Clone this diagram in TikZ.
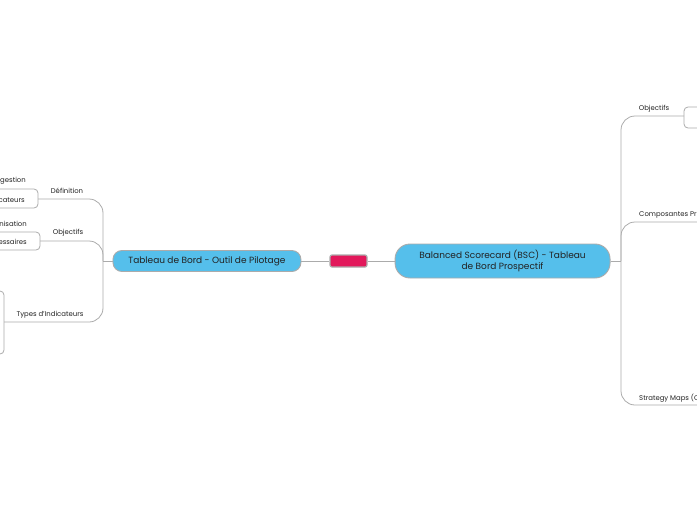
\documentclass[tikz,border=0pt]{standalone}
\usepackage{fontspec}
\setmainfont{Poppins}
\usetikzlibrary{positioning}
\definecolor{skyblue}{HTML}{55BFEB}
\definecolor{pinkred}{HTML}{E2185B}
\definecolor{linegray}{HTML}{ABABAB}
\definecolor{inkgray}{HTML}{222222}
\tikzstyle{topic} = [rectangle, draw=linegray, fill=skyblue, line width=0.9pt, text=inkgray, text centered, inner sep=0pt, font=\fontsize{9}{11}\selectfont]
\tikzstyle{sublabel} = [text=inkgray, inner sep=0pt, font=\fontsize{6.9}{8}\selectfont]
\tikzstyle{link} = [draw=linegray, line width=0.8pt]
\tikzstyle{branch} = [link, rounded corners=14pt]
\tikzstyle{bracket} = [link, rounded corners=4pt]

\begin{document}
\begin{tikzpicture}[x=1pt, y=-1pt, node distance=27pt]
        \useasboundingbox (0,0) rectangle (697,520);
        \clip (0,0) rectangle (697,520);
        % Place nodes
        \node [rectangle, draw=linegray, line width=1.2pt, fill=pinkred, rounded corners=2pt, minimum width=37pt, minimum height=12pt] (mid) at (348.5,261) {};
        \node [topic, right=27pt of mid, minimum width=215pt, minimum height=34pt, rounded corners=15pt, align=center] (bsc) {Balanced Scorecard (BSC) - Tableau\\de Bord Prospectif};
        \node [topic, left=28pt of mid, minimum width=188pt, minimum height=21pt, rounded corners=9pt] (tbo) {Tableau de Bord - Outil de Pilotage};
        \coordinate (lt) at (103,261);
        \coordinate (rt) at (621,261);
        % Left side
        \node [sublabel] (ldef) at (67,191) {Définition};
        \node [sublabel] (lobj) at (68,233) {Objectifs};
        \node [sublabel] (ltyp) at (50,315) {Types d'Indicateurs};
        \node [sublabel, anchor=east] (ldefa) at (26,181) {gestion};
        \node [sublabel, anchor=east] (ldefb) at (25,200) {icateurs};
        \node [sublabel, anchor=east] (lobja) at (27,224) {nisation};
        \node [sublabel, anchor=east] (lobjb) at (27,242) {essaires};
        \coordinate (bdef) at (38,199);
        \coordinate (bobj) at (40,241);
        \coordinate (btyp) at (4,322);
        % Right side
        \node [sublabel] (robj) at (654,109) {Objectifs};
        \node [sublabel, anchor=west] (rcomp) at (639,215) {Composantes Pri};
        \node [sublabel, anchor=west] (rstrat) at (639,398) {Strategy Maps (C};
        \coordinate (bro) at (684,116);
        \coordinate (rcompend) at (697,222);
        \coordinate (rstratend) at (697,405);
        % Draw edges
        \path [link] (tbo) -- (mid);
        \path [link] (mid) -- (bsc);
        \path [link] (tbo.west) -- (lt);
        \path [link] (bsc.east) -- (rt);
        \path [branch] (lt) |- (bdef);
        \path [branch] (lt) |- (bobj);
        \path [branch] (lt) |- (btyp);
        \path [bracket] (0,189) -| (bdef) |- (0,208);
        \path [bracket] (0,232) -| (bobj) |- (0,250);
        \path [bracket] (0,291) -| (btyp) |- (0,354);
        \path [branch] (rt) |- (bro);
        \path [branch] (rt) |- (rcompend);
        \path [branch] (rt) |- (rstratend);
        \path [bracket] (697,107) -| (bro) |- (697,128);
\end{tikzpicture}
\end{document}
